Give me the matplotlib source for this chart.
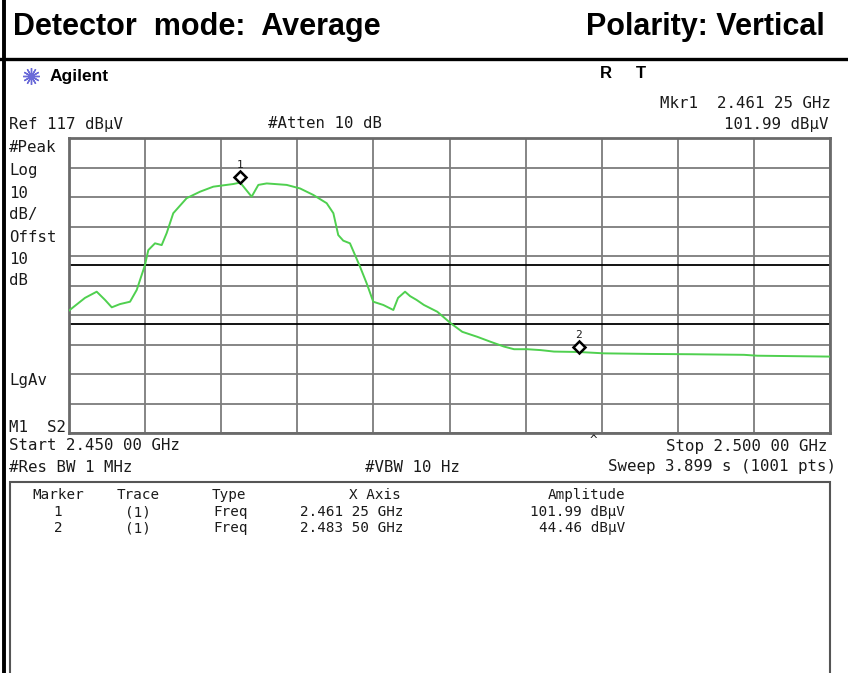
import numpy as np
import matplotlib.pyplot as plt
from matplotlib.lines import Line2D
from matplotlib.patches import Rectangle
import matplotlib.transforms as mtransforms

# trace (GHz, dBuV)
freq = [2.45000, 2.45105, 2.45182, 2.45237, 2.45281, 2.45335, 2.45401, 2.45445,
        2.45499, 2.45521, 2.45565, 2.45609, 2.45642, 2.45685, 2.45773, 2.45861,
        2.45948, 2.46079, 2.46125, 2.46200, 2.46244, 2.46299, 2.46430, 2.46518,
        2.46605, 2.46693, 2.46737, 2.46769, 2.46802, 2.46846, 2.46912, 2.46956,
        2.46999, 2.47065, 2.47131, 2.47162, 2.47208, 2.47241, 2.47284, 2.47332,
        2.47420, 2.47508, 2.47584, 2.47683, 2.47771, 2.47858, 2.47924, 2.48011,
        2.48099, 2.48187, 2.48350, 2.48515, 2.48822, 2.49085, 2.49435, 2.49522,
        2.50000]
level = [58.5, 62.8, 64.9, 62.1, 59.6, 60.7, 61.5, 65.5,
         73.9, 79.0, 81.3, 80.7, 84.8, 91.5, 96.6, 98.8,
         100.5, 101.4, 101.9, 97.1, 101.1, 101.6, 101.1, 99.9,
         97.7, 94.9, 91.5, 84.1, 82.2, 81.3, 73.4, 67.7,
         61.5, 60.4, 58.7, 62.8, 64.9, 63.4, 62.1, 60.4,
         58.1, 54.2, 51.3, 49.6, 47.9, 46.3, 45.4, 45.4,
         45.1, 44.6, 44.46, 44.0, 43.8, 43.7, 43.5, 43.2,
         42.9]

mkr_num = ['1', '2']
mkr_freq = [2.46125, 2.48350]
mkr_amp = [101.99, 44.46]

limit_lines = [74, 54]   # dBuV
ref_level = 117
db_div = 10
f_start, f_stop = 2.450, 2.500

W, H = 848, 673
fig = plt.figure(figsize=(W / 100, H / 100), dpi=100)
fig.patch.set_facecolor('white')

def px(x, y):
    return x / W, 1 - y / H

mono = 'DejaVu Sans Mono'
tcol = '#1a1a1a'

def txt(x, y, s, ha='left', size=11.3, **kw):
    fx, fy = px(x, y)
    fig.text(fx, fy, s, ha=ha, va='center', fontsize=size, family=kw.pop('family', mono),
             color=kw.pop('color', tcol), **kw)

# header band
txt(13, 27, 'Detector  mode:  Average', size=22, family='Liberation Sans', weight='bold', color='black')
txt(586, 27, 'Polarity: Vertical', size=22, family='Liberation Sans', weight='bold', color='black')
fig.add_artist(Line2D([0, 1], [px(0, 58.5)[1]] * 2, color='black', lw=2.4))
fig.add_artist(Line2D([px(4, 0)[0]] * 2, [0, 1], color='black', lw=2.8))

# logo + instrument status
lx, ly = px(31, 76)
fig.add_artist(Line2D([lx], [ly], marker=(12, 2, 0), markersize=12, mew=1.0,
                      color='#6a6ad8', transform=fig.transFigure))
txt(50, 76, 'Agilent', size=12.5, family='Liberation Sans', weight='bold', color='black')
txt(606, 74, 'R', size=12, family='Liberation Sans', weight='bold', color='black', ha='center')
txt(641, 74, 'T', size=12, family='Liberation Sans', weight='bold', color='black', ha='center')

def fmt_ghz(f):
    s = f'{f:.5f}'
    return s[:5] + ' ' + s[5:] + ' GHz'

txt(831, 104, 'Mkr1  ' + fmt_ghz(mkr_freq[0]), ha='right')
txt(9, 124, f'Ref {ref_level} dBµV')
txt(268, 124, '#Atten 10 dB')
txt(828, 124, f'{mkr_amp[0]:.2f} dBµV', ha='right')

side = [('#Peak', 148), ('Log', 170), ('10', 193), ('dB/', 215), ('Offst', 237),
        ('10', 259), ('dB', 280), ('LgAv', 380), ('M1  S2', 427)]
for s, y in side:
    txt(9, y, s)

# trace display
ax = fig.add_axes([69 / W, 1 - 433 / H, 761 / W, 295 / H])
ax.set_xlim(f_start, f_stop)
ax.set_ylim(ref_level - 10 * db_div, ref_level)
ax.set_xticks(np.linspace(f_start, f_stop, 11))
ax.set_yticks(np.arange(ref_level - 10 * db_div, ref_level + 1, db_div))
ax.tick_params(length=0, labelbottom=False, labelleft=False)
ax.grid(True, color='#7c7c7c', lw=1.3)
ax.set_axisbelow(True)
for sp in ax.spines.values():
    sp.set_color('#6a6a6a')
    sp.set_linewidth(2)
for lv in limit_lines:
    ax.axhline(lv, color='black', lw=1.3, zorder=2)

ax.plot(freq, level, color='#4fd04f', lw=1.4, zorder=3)

up = mtransforms.offset_copy(ax.transData, fig=fig, x=0, y=5, units='dots')
up2 = mtransforms.offset_copy(ax.transData, fig=fig, x=0, y=17, units='dots')
ax.plot(mkr_freq, mkr_amp, ls='none', marker='D', ms=6, mfc='white', mec='black',
        mew=1.8, transform=up, zorder=4)
for n, f, a in zip(mkr_num, mkr_freq, mkr_amp):
    ax.text(f, a, n, transform=up2, ha='center', va='center', fontsize=8, family=mono, color=tcol)

# bottom annotations
txt(9, 446, f'Start {fmt_ghz(f_start)}')
txt(828, 446, f'Stop {fmt_ghz(f_stop)}', ha='right')
txt(593, 440, '^', ha='center', size=9)
txt(9, 467, '#Res BW 1 MHz')
txt(365, 467, '#VBW 10 Hz')
txt(836, 467, 'Sweep 3.899 s (1001 pts)', ha='right')

# marker table
bx, by = px(10, 482)
fig.add_artist(Rectangle((bx, -0.02), px(830, 0)[0] - bx, by + 0.02, fill=False,
                         ec='#555555', lw=1.5, transform=fig.transFigure))
ts = 10.3
txt(58, 495, 'Marker', ha='center', size=ts)
txt(138, 495, 'Trace', ha='center', size=ts)
txt(212, 495, 'Type', size=ts)
txt(375, 495, 'X Axis', ha='center', size=ts)
txt(625, 495, 'Amplitude', ha='right', size=ts)
for i, (n, f, a) in enumerate(zip(mkr_num, mkr_freq, mkr_amp)):
    y = 512 + i * 16
    txt(58, y, n, ha='center', size=ts)
    txt(138, y, '(1)', ha='center', size=ts)
    txt(213, y, 'Freq', size=ts)
    txt(300, y, fmt_ghz(f), size=ts)
    txt(625, y, f'{a:.2f} dBµV', ha='right', size=ts)

fig.savefig('out.png', dpi=100)
